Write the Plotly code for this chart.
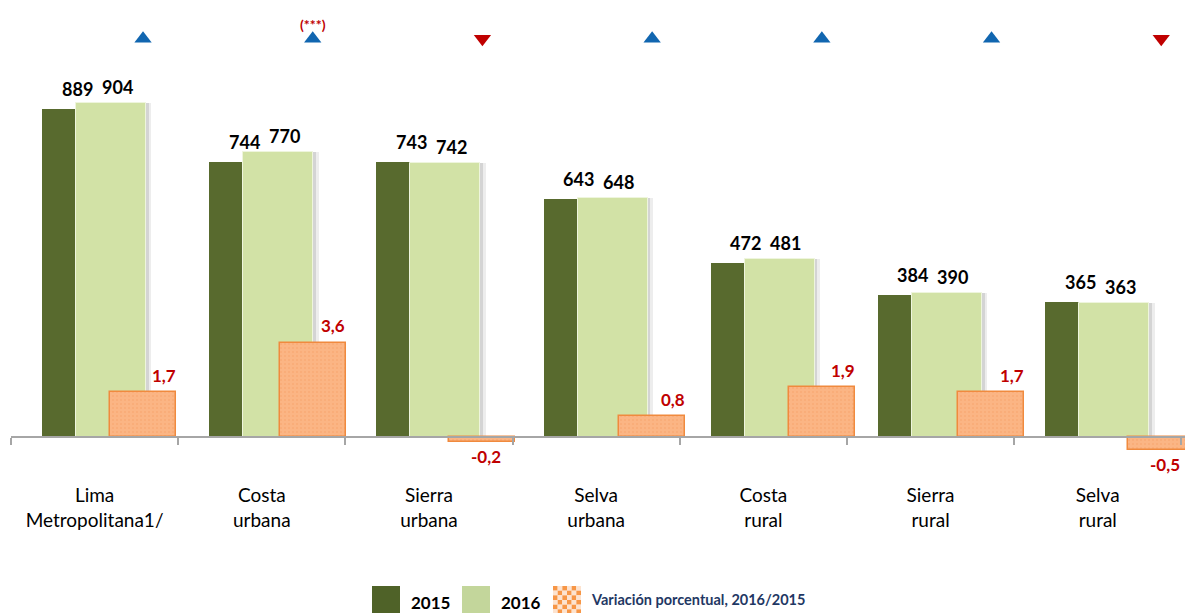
import plotly.graph_objects as go

# ---------------- data ----------------
categories = ["Lima<br>Metropolitana1/", "Costa<br>urbana", "Sierra<br>urbana", "Selva<br>urbana",
              "Costa<br>rural", "Sierra<br>rural", "Selva<br>rural"]
v2015 = [889, 744, 743, 643, 472, 384, 365]
v2016 = [904, 770, 742, 648, 481, 390, 363]
variacion = [1.7, 3.6, -0.2, 0.8, 1.9, 1.7, -0.5]
significancia = ["", "(***)", "", "", "", "", ""]
legend_names = ["2015", "2016", "Variación porcentual, 2016/2015"]

# ---------------- style ----------------
DARK = "#586A2E"
LIGHT = "#D2E2A6"
ORANGE_FILL = "#FBB584"
ORANGE_LINE = "#F08A3E"
RED = "#C00000"
BLUE = "#1166B0"
AXIS = "#A6A6A6"
FONT = "Lato"

W, H = 1185, 613
ML, MR, MT, MB = 11, 0, 10, 143
PW, PH = W - ML - MR, H - MT - MB

idx = list(range(len(categories)))

fig = go.Figure()

fig.add_trace(go.Bar(x=idx, y=v2015, offset=-0.315, width=0.206, name=legend_names[0],
                     marker=dict(color=DARK, line=dict(width=0)), showlegend=False,
                     xaxis="x", yaxis="y"))
# soft shadow at the right of the 2016 bars
fig.add_trace(go.Bar(x=idx, y=v2016, offset=0.29, width=0.05,
                     marker=dict(color="rgba(0,0,0,0.07)", line=dict(width=0)),
                     showlegend=False, hoverinfo="skip", xaxis="x", yaxis="y"))
fig.add_trace(go.Bar(x=idx, y=v2016, offset=0.29, width=0.033,
                     marker=dict(color="rgba(0,0,0,0.10)", line=dict(width=0)),
                     showlegend=False, hoverinfo="skip", xaxis="x", yaxis="y"))
fig.add_trace(go.Bar(x=idx, y=v2016, offset=-0.111, width=0.419, name=legend_names[1],
                     marker=dict(color=LIGHT, line=dict(width=1, color="#EEF5DD")),
                     showlegend=False, xaxis="x", yaxis="y"))
fig.add_trace(go.Bar(x=idx, y=variacion, offset=0.083, width=0.389, name=legend_names[2],
                     marker=dict(color=ORANGE_FILL, line=dict(width=1.5, color=ORANGE_LINE),
                                 pattern=dict(shape=".", fgcolor="#F6A066", bgcolor=ORANGE_FILL,
                                              size=4, solidity=0.2)),
                     showlegend=False, xaxis="x2", yaxis="y2"))

# direction triangles
fig.add_trace(go.Scatter(
    x=[i + 0.278 for i in idx], y=[15.2] * len(idx), mode="markers",
    marker=dict(symbol=["triangle-up" if v > 0 else "triangle-down" for v in variacion],
                color=[BLUE if v > 0 else RED for v in variacion], size=15, line=dict(width=0)),
    showlegend=False, cliponaxis=False, hoverinfo="skip", xaxis="x2", yaxis="y2"))

annotations = []
for i in idx:
    annotations.append(dict(x=i - 0.105, y=v2015[i], xref="x", yref="y", text=f"<b>{v2015[i]}</b>",
                            showarrow=False, yshift=20, yanchor="middle",
                            font=dict(family=FONT, size=18, color="black")))
    annotations.append(dict(x=i + 0.134, y=v2016[i], xref="x", yref="y", text=f"<b>{v2016[i]}</b>",
                            showarrow=False, yshift=16, yanchor="middle",
                            font=dict(family=FONT, size=18, color="black")))
    lab = f"{variacion[i]:.1f}".replace(".", ",")
    if variacion[i] >= 0:
        annotations.append(dict(x=i + 0.40, y=variacion[i], xref="x2", yref="y2", text=f"<b>{lab}</b>",
                                showarrow=False, yshift=17, yanchor="middle",
                                font=dict(family=FONT, size=17, color=RED)))
    else:
        annotations.append(dict(x=i + 0.30, y=variacion[i], xref="x2", yref="y2", text=f"<b>{lab}</b>",
                                showarrow=False, yshift=-14, yanchor="middle",
                                font=dict(family=FONT, size=17, color=RED)))
    if significancia[i]:
        annotations.append(dict(x=i + 0.278, y=15.75, xref="x2", yref="y2", text=f"<b>{significancia[i]}</b>",
                                showarrow=False, yanchor="middle",
                                font=dict(family=FONT, size=14, color=RED)))

# ---------------- manual legend ----------------
def px(xp):
    return (xp - ML) / PW

def py(yp):
    return (H - MB - yp) / PH

shapes = []
sq_top, sq_bot = 586, 613
shapes.append(dict(type="rect", xref="paper", yref="paper", x0=px(372), x1=px(400),
                   y0=py(sq_bot), y1=py(sq_top), fillcolor="#4F6228", line=dict(width=0)))
shapes.append(dict(type="rect", xref="paper", yref="paper", x0=px(462), x1=px(490),
                   y0=py(sq_bot), y1=py(sq_top), fillcolor="#C3D69B", line=dict(width=0)))
cell = 28 / 6
for r in range(6):
    for c in range(6):
        col = "#F79646" if (r + c) % 2 == 0 else "#FDE3CF"
        shapes.append(dict(type="rect", xref="paper", yref="paper",
                           x0=px(553 + c * cell), x1=px(553 + (c + 1) * cell),
                           y0=py(sq_top + (r + 1) * cell), y1=py(sq_top + r * cell),
                           fillcolor=col, line=dict(width=0)))
annotations.append(dict(x=px(409), y=py(602), xref="paper", yref="paper", text=f"<b>{legend_names[0]}</b>",
                        showarrow=False, xanchor="left", yanchor="middle",
                        font=dict(family=FONT, size=17, color="black")))
annotations.append(dict(x=px(499), y=py(602), xref="paper", yref="paper", text=f"<b>{legend_names[1]}</b>",
                        showarrow=False, xanchor="left", yanchor="middle",
                        font=dict(family=FONT, size=17, color="black")))
annotations.append(dict(x=px(589), y=py(599), xref="paper", yref="paper", text=f"<b>{legend_names[2]}</b>",
                        showarrow=False, xanchor="left", yanchor="middle",
                        font=dict(family=FONT, size=14.5, color="#1F3864")))

zero_px = 437
fig.update_layout(
    width=W, height=H,
    margin=dict(l=ML, r=MR, t=MT, b=MB, pad=0),
    paper_bgcolor="white", plot_bgcolor="white",
    barmode="overlay", bargap=0,
    showlegend=False,
    font=dict(family=FONT),
    xaxis=dict(range=[-0.5, 6.522], tickvals=idx, ticktext=categories, ticks="",
               showline=True, linecolor=AXIS, linewidth=2, anchor="free",
               position=(H - MB - zero_px) / PH, showgrid=False, zeroline=False,
               tickfont=dict(family=FONT, size=19, color="black"), ticklabelstandoff=41,
               minor=dict(ticks="outside", ticklen=7, tickcolor=AXIS, tickwidth=1.5,
                          tick0=-0.5, dtick=1, showgrid=False)),
    yaxis=dict(range=[-89.3, 1155.6], visible=False, showgrid=False, zeroline=False),
    xaxis2=dict(range=[-0.5, 6.418], overlaying="x", anchor="y2", visible=False),
    yaxis2=dict(range=[-1.26, 16.30], overlaying="y", side="right", visible=False,
                showgrid=False, zeroline=False),
    annotations=annotations,
    shapes=shapes,
)

fig.write_html("out.html", config={"displayModeBar": False},
               post_script="document.body.style.margin='0';document.body.style.overflow='hidden';")
